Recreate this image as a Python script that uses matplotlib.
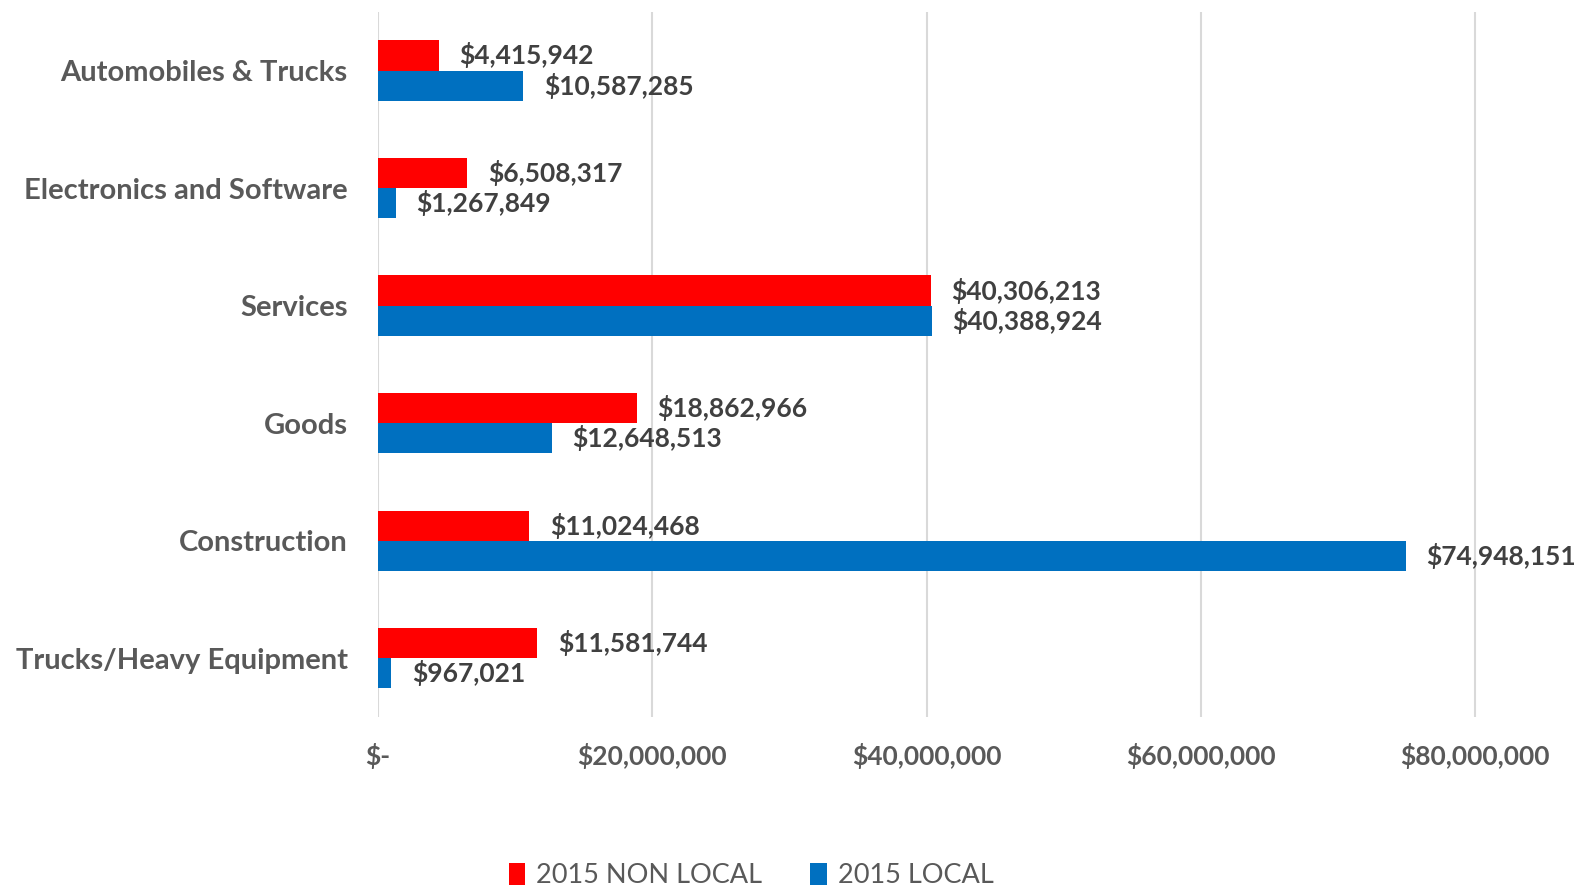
import numpy as np
import matplotlib.pyplot as plt
from matplotlib.ticker import FuncFormatter

plt.rcParams['font.family'] = ['Lato', 'DejaVu Sans']

categories = ['Automobiles & Trucks', 'Electronics and Software', 'Services',
              'Goods', 'Construction', 'Trucks/Heavy Equipment']
non_local = [4415942, 6508317, 40306213, 18862966, 11024468, 11581744]
local = [10587285, 1267849, 40388924, 12648513, 74948151, 967021]

red = '#FF0000'
blue = '#0070C0'
grey = '#595959'
dark = '#404040'

fig = plt.figure(figsize=(15.81, 8.86), dpi=100)
ax = fig.add_axes([0.2392, 0.1907, 0.737, 0.796])

y = np.arange(len(categories))
h = 0.257

# red bar above the category centre, blue below
ax.barh(y - h / 2, non_local, height=h, color=red, label='2015 NON LOCAL')
ax.barh(y + h / 2, local, height=h, color=blue, label='2015 LOCAL')

for yi, v in zip(y, non_local):
    ax.annotate(f'${v:,.0f}', (v, yi - h / 2), xytext=(15, 0), textcoords='offset points',
                va='center', ha='left', fontsize=19, fontweight='bold', color=dark)
for yi, v in zip(y, local):
    ax.annotate(f'${v:,.0f}', (v, yi + h / 2), xytext=(15, 0), textcoords='offset points',
                va='center', ha='left', fontsize=19, fontweight='bold', color=dark)

ax.set_ylim(len(categories) - 0.5, -0.5)
ax.set_xlim(0, 85e6)
ax.set_yticks(y)
ax.set_yticklabels(categories, fontsize=21, fontweight='bold', color=grey)
ax.set_xticks([0, 20e6, 40e6, 60e6, 80e6])
ax.xaxis.set_major_formatter(FuncFormatter(lambda v, p: '$-' if v == 0 else f'${v:,.0f}'))
for lab in ax.get_xticklabels():
    lab.set_fontweight('bold')
ax.tick_params(axis='x', labelsize=19, labelcolor=grey, length=0, pad=19)
ax.tick_params(axis='y', length=0, pad=22)

ax.grid(axis='x', color='#D9D9D9', linewidth=1.5)
ax.set_axisbelow(True)
for s in ax.spines.values():
    s.set_visible(False)

leg = fig.legend(loc='lower center', bbox_to_anchor=(0.475, -0.03), ncol=2, frameon=False,
                 fontsize=19.5, handlelength=0.6, handleheight=0.9, handletextpad=0.4,
                 columnspacing=1.8)
for t in leg.get_texts():
    t.set_color(grey)

plt.savefig('out.png', dpi=100)
